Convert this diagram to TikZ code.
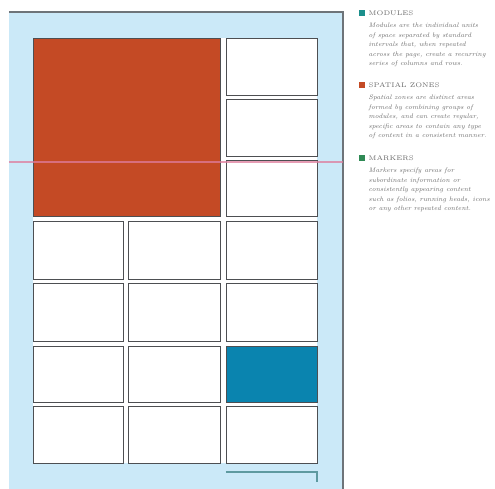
\documentclass[tikz,border=0pt]{standalone}
\usepackage{fontspec}
\usetikzlibrary{positioning}

\definecolor{pageblue}{HTML}{CBE9F8}
\definecolor{pageline}{HTML}{6E7479}
\definecolor{gridgray}{HTML}{4D4F52}
\definecolor{zonered}{HTML}{C44A25}
\definecolor{modblue}{HTML}{0A84AF}
\definecolor{guidepink}{HTML}{DE7C9C}
\definecolor{folioteal}{HTML}{5E9AA0}
\definecolor{modteal}{HTML}{1C8F8C}
\definecolor{markgreen}{HTML}{2F8A55}
\definecolor{legendgray}{HTML}{6A6A6A}

\begin{document}
\begin{tikzpicture}[x=0.02cm,y=-0.02cm,
  cell/.style={draw=gridgray, line width=0.55pt, fill=white},
  zone/.style={draw=gridgray, line width=0.55pt, fill=#1},
  bullet/.style={fill=#1, minimum size=0.12cm, inner sep=0pt},
  heading/.style={font=\fontsize{3.8}{5}\selectfont\addfontfeature{LetterSpace=20}, text=legendgray, inner sep=0pt},
  body/.style={font=\fontsize{3.75}{5.4}\selectfont\itshape, text=legendgray, align=left, inner sep=0pt},
]
\useasboundingbox (0,0) rectangle (495,489);

% page
\fill[pageblue] (9,12) rectangle (343,489);
\draw[pageline, line width=0.6pt] (9,12) -- (343,12) -- (343,489);

% modules
\fill[white] (33,38) rectangle (317,463);
\foreach \ya/\yb in {38/95, 99/156, 160/216, 221/279, 283/341, 346/402, 406/463}
  \foreach \xa/\xb in {33/123, 128/220, 226/317}
    \draw[cell] (\xa,\ya) rectangle (\xb,\yb);

% spatial zones
\draw[zone=zonered] (33,38) rectangle (220,216);
\draw[zone=modblue] (226,346) rectangle (317,402);

% guide line and marker
\draw[guidepink, opacity=0.75, line width=0.6pt] (9,162) -- (343,162);
\draw[folioteal, line width=0.6pt] (226,472) -- (317,472) -- (317,482);

% legend
\node[bullet=modteal] (modsq) at (362,13) {};
\node[heading, right=0.06cm of modsq] (modhead) {MODULES};
\node[body, below=0.14cm of modhead.south west, anchor=north west] (modtext)
  {Modules are the individual units\\of space separated by standard\\intervals that, when repeated\\across the page, create a recurring\\series of columns and rows.};

\node[bullet=zonered] (zonesq) at (362,85) {};
\node[heading, right=0.06cm of zonesq] (zonehead) {SPATIAL ZONES};
\node[body, below=0.14cm of zonehead.south west, anchor=north west] (zonetext)
  {Spatial zones are distinct areas\\formed by combining groups of\\modules, and can create regular,\\specific areas to contain any type\\of content in a consistent manner.};

\node[bullet=markgreen] (marksq) at (362,158) {};
\node[heading, right=0.06cm of marksq] (markhead) {MARKERS};
\node[body, below=0.14cm of markhead.south west, anchor=north west] (marktext)
  {Markers specify areas for\\subordinate information or\\consistently appearing content\\such as folios, running heads, icons\\or any other repeated content.};
\end{tikzpicture}
\end{document}
